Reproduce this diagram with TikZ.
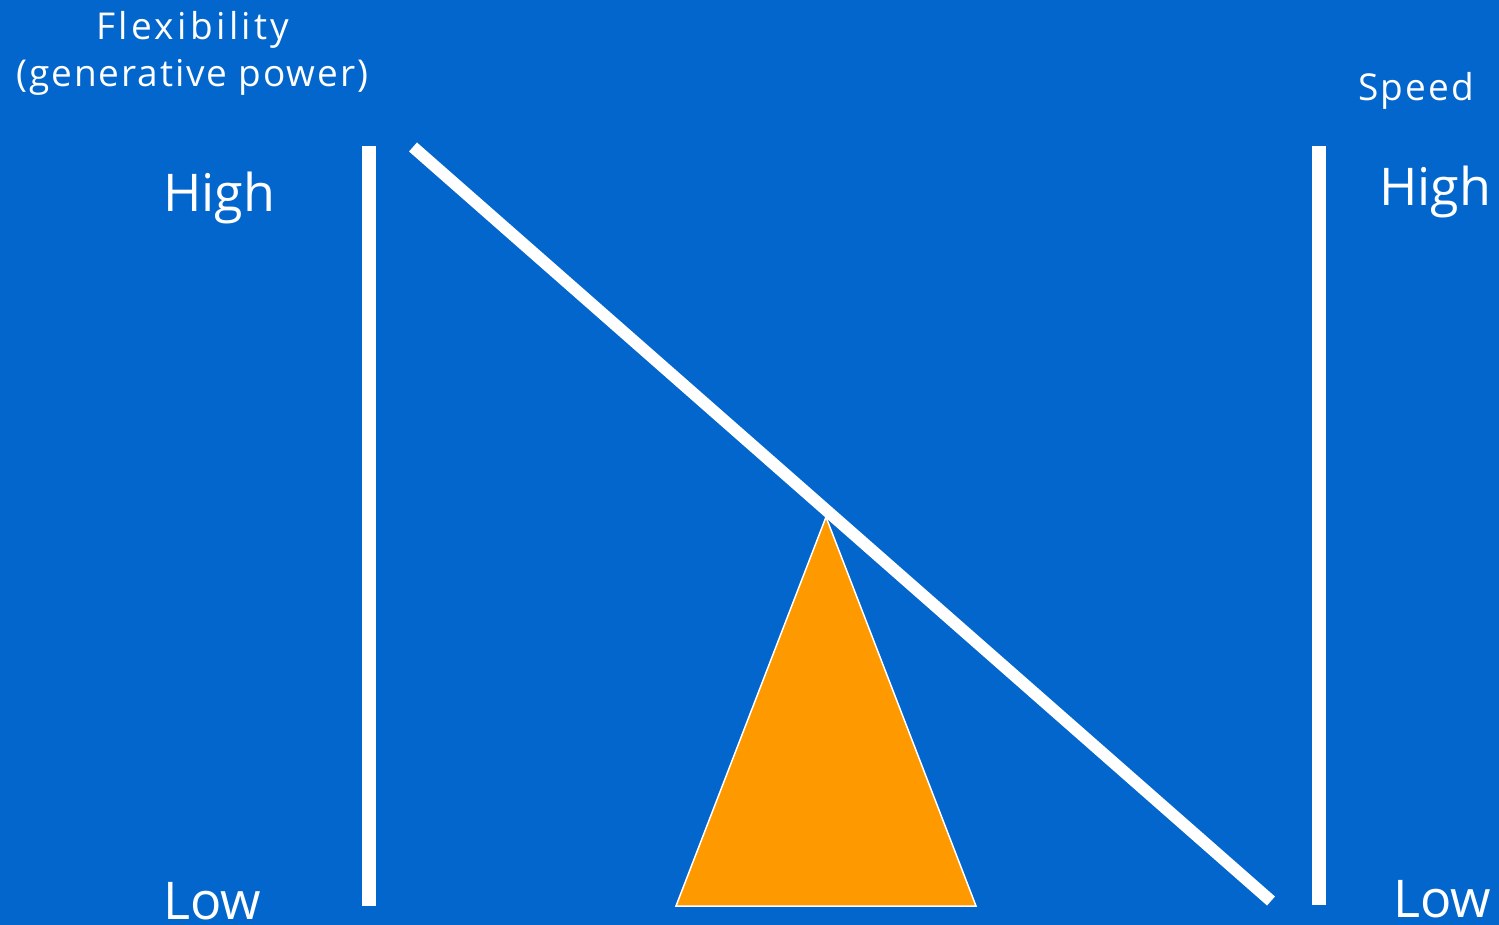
\documentclass[tikz,border=0pt]{standalone}
\usepackage{fontspec}
\setmainfont{Open Sans}
\definecolor{bg}{HTML}{0366CC}
\definecolor{tri}{HTML}{FF9900}
\tikzset{
  lbl/.style={text=white, inner sep=0pt, anchor=base},
  small/.style={lbl, font=\fontsize{37}{37}\selectfont},
  big/.style={lbl, font=\fontsize{52}{52}\selectfont},
  bar/.style={white, line width=14pt},
  beam/.style={white, line width=12pt},
}
\begin{document}
\begin{tikzpicture}[x=1pt,y=-1pt]
\fill[bg] (0,0) rectangle (1499,925);
\useasboundingbox (0,0) rectangle (1499,925);
% axes
\draw[bar] (369,146) -- (369,906);
\draw[bar] (1319,146) -- (1319,905);
% triangle
\draw[fill=tri, draw=white, line width=1.5pt, line join=miter] (826,517) -- (976,906) -- (676,906) -- cycle;
% beam
\draw[beam] (413,147) -- (1271,901);
% labels
\node[small] (flex) at (193,40) {\addfontfeature{LetterSpace=9}Flexibility};
\node[small] (gen) at (192.5,87) {\addfontfeature{LetterSpace=5}(generative power)};
\node[small] (speed) at (1416.5,101) {\addfontfeature{LetterSpace=6}Speed};
\node[big] (hl) at (219,212) {High};
\node[big] (hr) at (1435,206) {High};
\node[big] (ll) at (212,919) {Low};
\node[big] (lr) at (1442,917) {Low};
\end{tikzpicture}
\end{document}
